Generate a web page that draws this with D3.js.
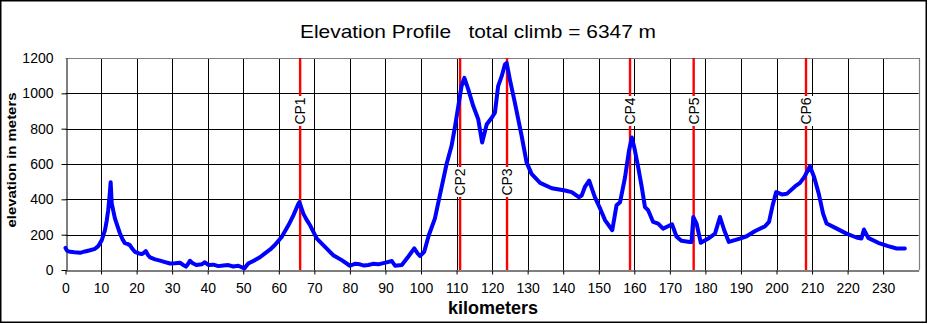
<!DOCTYPE html>
<html>
<head>
<meta charset="utf-8">
<script src="https://cdn.jsdelivr.net/npm/d3@7"></script>
<style>
  html, body { margin: 0; padding: 0; background: #fff; }
  svg { display: block; font-family: "Liberation Sans", Arial, sans-serif; }
</style>
</head>
<body>
<svg id="chart" width="928" height="324"></svg>
<script>
// Route profile: distance (km) and elevation (m)
const distanceKm = [0,0.5,1.3,2.5,4.1,5.5,6.9,8.3,9.2,10.2,11.1,11.6,12.0,12.4,12.7,13.0,13.9,14.6,15.3,16.0,16.7,17.4,18.1,18.8,19.5,20.5,21.4,22.0,22.6,23.2,23.8,25.2,26.6,28.0,29.4,30.8,32.2,33.0,33.9,34.5,35.0,35.8,36.9,38.3,39.2,40.2,41.6,43.0,44.4,45.8,47.2,48.6,50.3,51.4,53.3,54.7,56.1,57.5,58.9,60.8,62.7,64.1,65.5,65.8,66.9,67.8,68.8,70.7,73.0,75.3,77.7,80.0,81.4,82.8,84.0,85.2,86.5,88.0,90.3,91.8,92.7,94.6,96.4,98.1,99.0,99.7,100.9,102.2,103.9,105.3,107.2,108.6,109.6,110.5,111.4,112.2,113.3,114.7,116.1,117.2,118.5,119.9,120.8,121.7,122.7,123.6,124.1,125.0,126.4,128.3,129.7,131.1,133.5,136.8,140.5,142.4,144.4,145.2,146.1,147.3,148.9,150.4,151.8,153.8,155.0,156.0,157.4,158.5,159.3,160.0,161.1,162.1,163.0,163.9,165.3,166.7,168.1,169.5,170.6,171.9,173.3,175.6,176.1,176.6,177.5,178.7,180.8,182.7,184.1,185.3,186.6,189.7,191.6,194.0,196.8,197.9,198.8,199.9,201.5,202.9,205.2,206.6,207.8,209.4,210.6,211.9,213.1,214.1,216.4,219.7,222.5,223.9,224.6,225.8,228.6,231.4,233.8,236.1];
const elevationM = [125,108,103,100,97,105,112,120,135,169,225,280,337,420,497,377,292,250,208,175,152,148,141,120,103,95,90,96,107,85,71,60,53,45,37,38,41,30,19,35,52,38,28,32,44,28,30,22,26,28,20,24,9,37,56,72,94,115,141,187,253,309,375,384,319,285,253,178,131,84,56,24,35,32,25,28,35,32,43,51,24,28,75,122,95,79,103,197,291,422,600,703,816,928,1041,1088,1022,928,853,722,825,862,891,1041,1097,1163,1172,1078,947,760,609,544,493,463,450,441,412,422,470,506,412,347,281,225,366,384,525,675,750,694,581,469,356,338,272,263,234,248,259,188,165,159,159,300,263,154,178,206,300,225,159,178,191,221,248,272,356,441,428,431,473,493,525,587,525,431,319,263,240,206,184,178,229,182,154,135,122,122];

// Checkpoints
const cpNames = ["CP1","CP2","CP3","CP4","CP5","CP6"];
const cpKm = [66.0, 111.0, 124.2, 158.8, 176.7, 208.3];
const cpLabelLow = [false, true, true, false, false, false];

// Axis ticks
const xTicks = d3.range(0, 240, 10);
const yTicks = [0, 200, 400, 600, 800, 1000, 1200];

const titleText = "Elevation Profile   total climb = 6347 m";
const xTitle = "kilometers";
const yTitle = "elevation in meters";

const svg = d3.select("#chart");
const W = 928, H = 324;

const x = d3.scaleLinear().domain([0, 240]).range([65.5, 918.7]);
const y = d3.scaleLinear().domain([0, 1200]).range([270, 58]);

// outer frame
svg.append("rect")
  .attr("x", 0.75).attr("y", 0.75)
  .attr("width", W - 2.5).attr("height", H - 2.5)
  .attr("fill", "#fff").attr("stroke", "#000").attr("stroke-width", 1.5);

// grid
const grid = svg.append("g");
grid.selectAll("line.v").data(xTicks.filter(d => d > 0)).join("line")
  .attr("x1", d => Math.round(x(d)) + 0.5).attr("x2", d => Math.round(x(d)) + 0.5)
  .attr("y1", y(1200)).attr("y2", y(0))
  .attr("stroke", "#000").attr("stroke-width", 1);
grid.selectAll("line.h").data(yTicks.filter(d => d > 0 && d < 1200)).join("line")
  .attr("x1", x(0)).attr("x2", x(240))
  .attr("y1", d => Math.round(y(d)) + 0.5).attr("y2", d => Math.round(y(d)) + 0.5)
  .attr("stroke", "#000").attr("stroke-width", 1);

// plot area border (top and right)
svg.append("path")
  .attr("d", `M${x(0)},${Math.round(y(1200)) + 0.5}H${Math.round(x(240)) + 0.5}V${y(0)}`)
  .attr("fill", "none").attr("stroke", "#808080").attr("stroke-width", 1.2);

// axes
const yAxis = svg.append("g")
  .attr("transform", `translate(${Math.round(x(0)) + 0.5},0)`)
  .call(d3.axisLeft(y).tickValues(yTicks).tickFormat(d3.format("d"))
    .tickSize(5).tickPadding(8).tickSizeOuter(0));
const xAxis = svg.append("g")
  .attr("transform", `translate(0,${Math.round(y(0)) + 0.5})`)
  .call(d3.axisBottom(x).tickValues(xTicks).tickFormat(d3.format("d"))
    .tickSize(4).tickPadding(9).tickSizeOuter(0));
[yAxis, xAxis].forEach(g => {
  g.select(".domain").attr("stroke", "#000");
  g.selectAll(".tick line").attr("stroke", "#000");
  g.selectAll("text").attr("fill", "#000")
    .style("font-family", '"Liberation Sans", Arial, sans-serif').style("font-size", "14px");
});
yAxis.selectAll(".tick:last-of-type line").remove();

// checkpoint lines with labels
const cp = svg.append("g");
cpKm.forEach((k, i) => {
  const cx = x(k);
  const cy = cpLabelLow[i] ? 182 : 111;
  cp.append("line")
    .attr("x1", cx).attr("x2", cx).attr("y1", y(1200)).attr("y2", y(0))
    .attr("stroke", "#ff0000").attr("stroke-width", 2.4);
  cp.append("rect")
    .attr("x", cx - 8).attr("y", cy - 15).attr("width", 16).attr("height", 30)
    .attr("fill", "#fff");
  cp.append("text")
    .attr("transform", `translate(${cx + 5},${cy}) rotate(-90)`)
    .attr("text-anchor", "middle")
    .style("font-size", "14px").attr("fill", "#000")
    .text(cpNames[i]);
});

// elevation line
const profile = distanceKm.map((d, i) => [d, elevationM[i]]);
svg.append("path")
  .datum(profile)
  .attr("fill", "none")
  .attr("stroke", "#0000ff")
  .attr("stroke-width", 4)
  .attr("stroke-linejoin", "round")
  .attr("stroke-linecap", "round")
  .attr("d", d3.line().x(d => x(d[0])).y(d => y(d[1])));

// titles
svg.append("text")
  .attr("x", 478).attr("y", 38)
  .attr("text-anchor", "middle")
  .attr("textLength", 356).attr("lengthAdjust", "spacingAndGlyphs")
  .style("font-size", "18.5px").style("white-space", "pre")
  .attr("fill", "#000")
  .text(titleText);
svg.append("text")
  .attr("x", 493).attr("y", 314)
  .attr("text-anchor", "middle")
  .style("font-size", "18px").style("font-weight", "bold")
  .attr("fill", "#000")
  .text(xTitle);
svg.append("text")
  .attr("transform", "translate(16,160) rotate(-90)")
  .attr("text-anchor", "middle")
  .attr("textLength", 135).attr("lengthAdjust", "spacingAndGlyphs")
  .style("font-size", "13.5px").style("font-weight", "bold")
  .attr("fill", "#000")
  .text(yTitle);
</script>
</body>
</html>
